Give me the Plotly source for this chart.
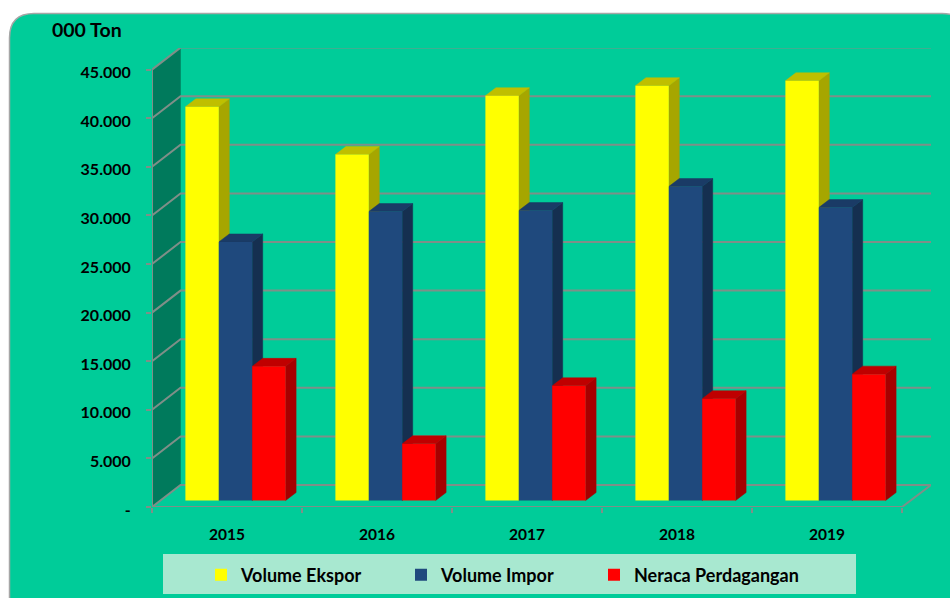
import plotly.graph_objects as go

# ---- data ----
years = ["2015", "2016", "2017", "2018", "2019"]
ekspor = [40500, 35590, 41640, 42670, 43180]
impor = [26600, 29730, 29830, 32300, 30140]
neraca = [13800, 5830, 11800, 10470, 13000]
y_ticks = [0, 5000, 10000, 15000, 20000, 25000, 30000, 35000, 40000, 45000]
y_labels = ["-", "5.000", "10.000", "15.000", "20.000", "25.000", "30.000", "35.000", "40.000", "45.000"]

series = [
    ("Volume Ekspor", ekspor, "#FFFF00", "#BFBF00", "#A6A600"),
    ("Volume Impor", impor, "#1F497D", "#1A3B66", "#152F50"),
    ("Neraca Perdagangan", neraca, "#FF0000", "#BF0000", "#A60000"),
]

# ---- layout geometry (pixels of the 950x598 canvas) ----
W, H = 950, 598
L, R, T, B = 152, 931, 48, 507
PX_CAT = 150.0            # one category on the front plane
PX_VAL = 48.6 / 5000.0    # pixels per unit
cx = lambda px: px / PX_CAT
vy = lambda px: px / PX_VAL
X_MAX, Y_MAX = cx(R - L), vy(B - T)
WALL_DX, WALL_DY = cx(28.5), vy(22)      # depth of the whole box
BAR_DX, BAR_DY = cx(10.5), vy(8)         # depth of one bar
BASE_DX, BASE_DY = cx(8.5), vy(6.5)      # front of bars behind front of box
BAR_W = cx(33.4)
GRID = "#7F8F88"
FONT = "Lato"

px_x = lambda p: (p - L) / (R - L)
px_y = lambda p: (B - p) / (B - T)

fig = go.Figure()

def poly(xs, ys, color, line=None):
    fig.add_trace(go.Scatter(x=xs, y=ys, mode="lines", fill="toself", fillcolor=color,
                             line=dict(color=line or color, width=0.5),
                             hoverinfo="skip", showlegend=False))

def line(xs, ys, width=2):
    fig.add_trace(go.Scatter(x=xs, y=ys, mode="lines", line=dict(color=GRID, width=width),
                             hoverinfo="skip", showlegend=False))

# left wall
poly([0, WALL_DX, WALL_DX, 0, 0],
     [0, WALL_DY, y_ticks[-1] + WALL_DY, y_ticks[-1], 0], "#007A5C")

# gridlines: along the left wall and then the back wall
for v in y_ticks:
    line([0, WALL_DX, X_MAX], [v, v + WALL_DY, v + WALL_DY])
# floor edges and front axis lines
line([5, X_MAX], [0, WALL_DY])
line([0, 5], [0, 0])
line([0, 0], [0, y_ticks[-1]])

# side and top faces of every bar, computed from the values
for c in range(len(years)):
    for s, (name, vals, front, top, side) in enumerate(series):
        x0 = c + 0.5 + (s - 1.5) * BAR_W + BASE_DX
        x1 = x0 + BAR_W
        b = BASE_DY
        t = b + vals[c]
        poly([x1, x1 + BAR_DX, x1 + BAR_DX, x1, x1], [b, b + BAR_DY, t + BAR_DY, t, b], side)
        poly([x0, x0 + BAR_DX, x1 + BAR_DX, x1, x0], [t, t + BAR_DY, t + BAR_DY, t, t], top)

# front faces: real bars on an overlaid pair of axes so they sit above the faces
legend_ids = ["legend", "legend2", "legend3"]
for s, (name, vals, front, top, side) in enumerate(series):
    fig.add_trace(go.Bar(
        x=[c + 0.5 + (s - 1) * BAR_W + BASE_DX for c in range(len(years))],
        y=vals, base=BASE_DY, width=BAR_W, name=name, xaxis="x2", yaxis="y2",
        legend=legend_ids[s],
        marker=dict(color=front, line=dict(width=0)),
        customdata=years, hovertemplate="%{customdata}: %{y:,.0f}<extra>" + name + "</extra>",
    ))

shapes = [
    # rounded panel that runs off the right and bottom of the canvas
    dict(type="path", xref="paper", yref="paper", layer="below",
         path=(f"M {px_x(9.5)},{px_y(660)} L {px_x(9.5)},{px_y(38)} "
               f"Q {px_x(9.5)},{px_y(13.5)} {px_x(34)},{px_y(13.5)} "
               f"L {px_x(942)},{px_y(13.5)} Q {px_x(967)},{px_y(13.5)} {px_x(967)},{px_y(38)} "
               f"L {px_x(967)},{px_y(660)} Z"),
         fillcolor="#00CC99", line=dict(color="#A6A6A6", width=1.5)),
    dict(type="rect", xref="paper", yref="paper", layer="below",
         x0=px_x(163), x1=px_x(856), y0=px_y(594), y1=px_y(554),
         fillcolor="#A8E8D0", line=dict(width=0)),
]

def legend_at(px):
    return dict(orientation="h", xref="container", yref="container",
                x=px / W, xanchor="left", y=1 - 575 / H, yanchor="middle",
                bgcolor="rgba(0,0,0,0)", font=dict(family=FONT, size=18, weight="bold"),
                itemclick=False, itemdoubleclick=False)

fig.update_layout(
    width=W, height=H,
    margin=dict(l=L, r=W - R, t=T, b=H - B, pad=0),
    paper_bgcolor="#FFFFFF", plot_bgcolor="rgba(0,0,0,0)",
    font=dict(family=FONT, size=15, color="#000000"),
    barmode="overlay", showlegend=True, shapes=shapes,
    xaxis=dict(range=[0, X_MAX], tickmode="array", tickvals=[c + 0.5 for c in range(len(years))],
               ticktext=years, ticks="", showgrid=False, zeroline=False, showline=False,
               ticklabelstandoff=16, tickfont=dict(family=FONT, size=15.5, weight="bold"),
               minor=dict(tickmode="array", tickvals=list(range(len(years) + 1)), ticks="outside",
                          ticklen=5, tickcolor=GRID, tickwidth=1.5, showgrid=False)),
    yaxis=dict(range=[0, Y_MAX], tickmode="array", tickvals=y_ticks, ticktext=y_labels,
               ticks="outside", ticklen=5, tickcolor=GRID, tickwidth=1.5, showgrid=False,
               zeroline=False, showline=False, ticklabelstandoff=12, ticklabelshift=3,
               tickfont=dict(family=FONT, size=16, weight="bold")),
    xaxis2=dict(range=[0, X_MAX], overlaying="x", visible=False),
    yaxis2=dict(range=[0, Y_MAX], overlaying="y", visible=False),
    legend=legend_at(201),
    legend2=legend_at(401),
    legend3=legend_at(594),
    annotations=[dict(text="<b>000 Ton</b>", xref="paper", yref="paper", x=px_x(50), y=px_y(30),
                      xanchor="left", yanchor="middle", showarrow=False,
                      font=dict(family=FONT, size=19.5))],
)

fig.write_html("out.html", config={"displayModeBar": False},
               post_script="document.body.style.margin='0';document.body.style.overflow='hidden';")
